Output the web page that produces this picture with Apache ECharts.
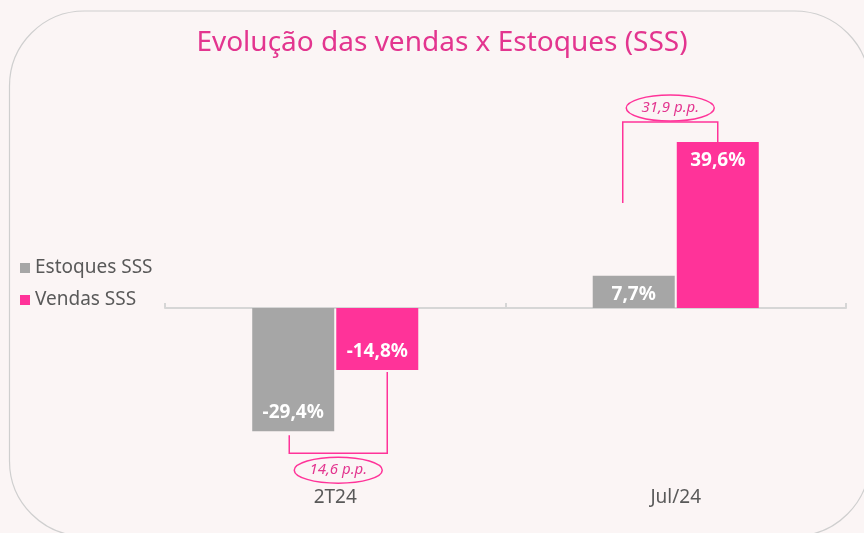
<!DOCTYPE html>
<html>
<head>
<meta charset="utf-8">
<script src="https://cdn.jsdelivr.net/npm/echarts@6/dist/echarts.min.js"></script>
<style>
  html, body { margin: 0; padding: 0; background: #fbf5f5; }
  #main { width: 864px; height: 533px; }
</style>
</head>
<body>
<div id="main"></div>
<script>
// dados do gráfico
const categorias = ['2T24', 'Jul/24']
const estoques = [-29.4, 7.7]
const vendas = [-14.8, 39.6]
const diferencas = ['14,6 p.p.', '31,9 p.p.']

const cinza = '#a6a6a6'
const rosa = '#ff3399'
const barW = 82
const fonte = '"Noto Sans", sans-serif'

// rótulo com vírgula decimal
function fmt(p) {
  return String(p.value.toFixed(1)).replace('.', ',') + '%'
}

// positivo: rótulo no topo; negativo: na ponta de baixo
function comRotulo(arr) {
  return arr.map(v => ({
    value: v,
    label: { position: v >= 0 ? 'insideTop' : 'insideBottom' }
  }))
}

const option = {
  backgroundColor: '#fbf5f5',
  animation: false,
  title: {
    text: 'Evolução das vendas x Estoques (SSS)',
    left: 437,
    textAlign: 'center',
    top: 24,
    textStyle: { color: '#e3358f', fontSize: 28, fontWeight: 'normal', fontFamily: fonte }
  },
  legend: {
    orient: 'vertical',
    left: 15,
    top: 253,
    itemWidth: 10,
    itemHeight: 10,
    itemGap: 12,
    icon: 'rect',
    textStyle: { color: '#595959', fontSize: 19, fontFamily: fonte, lineHeight: 20 },
    data: ['Estoques SSS', 'Vendas SSS']
  },
  grid: { left: 165, right: 18, top: 140.4, bottom: 57.4 },
  xAxis: [
    {
      type: 'category',
      data: categorias,
      axisLine: { onZero: true, lineStyle: { color: '#d6d6d6', width: 2 } },
      axisTick: { show: true, inside: true, length: 5, lineStyle: { color: '#d6d6d6', width: 2 } },
      axisLabel: { show: false }
    },
    {
      type: 'category',
      data: categorias,
      position: 'bottom',
      axisLine: { show: false, onZero: false },
      axisTick: { show: false },
      axisLabel: { color: '#595959', fontSize: 19, fontFamily: fonte, margin: 12 }
    }
  ],
  yAxis: {
    type: 'value',
    min: -40,
    max: 40,
    show: false,
    splitLine: { show: false }
  },
  series: [
    {
      name: 'Estoques SSS',
      type: 'bar',
      barWidth: barW,
      barGap: '2.5%',
      itemStyle: { color: cinza },
      label: {
        show: true, color: '#fff', fontSize: 19, fontWeight: 'bold', fontFamily: fonte,
        distance: 9, formatter: fmt
      },
      data: comRotulo(estoques)
    },
    {
      name: 'Vendas SSS',
      type: 'bar',
      barWidth: barW,
      barGap: '2.5%',
      itemStyle: { color: rosa },
      label: {
        show: true, color: '#fff', fontSize: 19, fontWeight: 'bold', fontFamily: fonte,
        distance: 9, formatter: fmt
      },
      data: comRotulo(vendas)
    }
  ]
}

const chart = echarts.init(document.getElementById('main'))
chart.setOption(option)

// anotações (colchetes + elipses) a partir das escalas do gráfico
function px(i, v) {
  return chart.convertToPixel({ xAxisIndex: 0, yAxisIndex: 0 }, [i, v])
}
const meio = (barW + 2) / 2
const graficos = [
  {
    type: 'rect',
    shape: { x: 9.5, y: 11, width: 860, height: 525, r: 75 },
    style: { fill: null, stroke: '#cfcfcf', lineWidth: 1.2 },
    z: -1, silent: true
  }
]

function elipse(cx, cy, txt) {
  graficos.push({
    type: 'ellipse',
    shape: { cx: cx, cy: cy, rx: 44, ry: 13 },
    style: { fill: '#fbf5f5', stroke: rosa, lineWidth: 1.5 }
  })
  graficos.push({
    type: 'text',
    x: cx, y: cy,
    style: {
      text: txt, fill: '#e3358f', font: 'italic 15px ' + fonte,
      textAlign: 'center', textVerticalAlign: 'middle'
    }
  })
}

// 2T24: colchete abaixo das barras
{
  const g = px(0, estoques[0])
  const p = px(0, vendas[0])
  const xl = g[0] - meio - 4
  const xr = p[0] + meio + 10
  const yb = g[1] + 22
  graficos.push({
    type: 'polyline',
    shape: { points: [[xl, g[1] + 4], [xl, yb], [xr, yb], [xr, p[1] + 2]] },
    style: { stroke: rosa, lineWidth: 1.5, fill: null }
  })
  elipse((xl + xr) / 2, yb + 17, diferencas[0])
}

// Jul/24: colchete acima das barras
{
  const g = px(1, estoques[1])
  const p = px(1, vendas[1])
  const xl = g[0] - meio - 11
  const xr = p[0] + meio
  const yt = p[1] - 20
  graficos.push({
    type: 'polyline',
    shape: { points: [[xl, p[1] + 61], [xl, yt], [xr, yt], [xr, p[1]]] },
    style: { stroke: rosa, lineWidth: 1.5, fill: null }
  })
  elipse((xl + xr) / 2, yt - 14, diferencas[1])
}

chart.setOption({ graphic: graficos })
</script>
</body>
</html>
